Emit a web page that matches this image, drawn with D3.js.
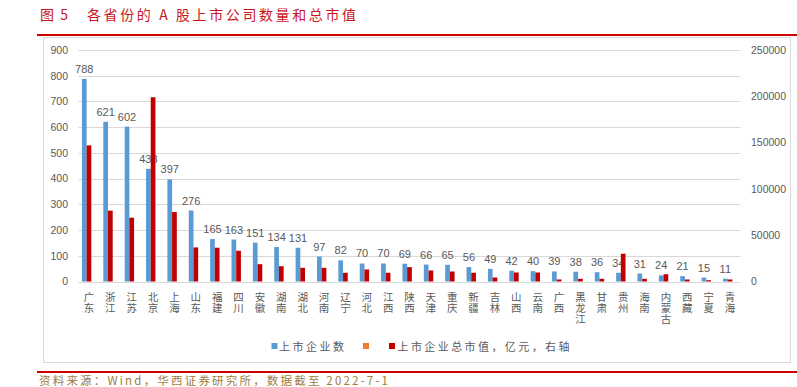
<!DOCTYPE html>
<html><head><meta charset="utf-8">
<script src="https://cdn.jsdelivr.net/npm/d3@7"></script>
<style>
html,body{margin:0;padding:0;background:#fff;}
svg{display:block;}
text{font-family:"Liberation Sans","Noto Sans CJK SC",sans-serif;}
.cjk{font-family:"Noto Sans CJK SC",sans-serif;}
.vert{writing-mode:vertical-rl;text-orientation:upright;}
</style></head>
<body>
<svg id="c" width="797" height="387"></svg>
<script>
const categories = ["广东","浙江","江苏","北京","上海","山东","福建","四川","安徽","湖南","湖北","河南","辽宁","河北","江西","陕西","天津","重庆","新疆","吉林","山西","云南","广西","黑龙江","甘肃","贵州","海南","内蒙古","西藏","宁夏","青海"];
const companyCount = [788,621,602,438,397,276,165,163,151,134,131,97,82,70,70,69,66,65,56,49,42,40,39,38,36,34,31,24,21,15,11];
const marketCap = [147000,76500,68900,199000,75000,36800,36500,33200,18700,16500,14800,14800,9400,13000,9400,15500,11900,10800,9400,4300,9700,9700,2200,2900,2900,30000,2900,7900,2200,1400,2200];
const leftTicks = [0,100,200,300,400,500,600,700,800,900];
const rightTicks = [0,50000,100000,150000,200000,250000];
const titleNo = "图 5";
const titleText = "各省份的 A 股上市公司数量和总市值";
const legendLabels = ["上市企业数", "", "上市企业总市值，亿元，右轴"];
const sourceText = "资料来源：Wind，华西证券研究所，数据截至 2022-7-1";

const svg = d3.select("#c");
const blue = "#5B9BD5", red = "#C00000", orange = "#ED7D31", gray = "#595959", grid = "#D9D9D9";

// title
svg.append("text").attr("class","cjk").attr("x",40).attr("y",20).attr("font-size",14).attr("fill","#C8161D")
  .attr("textLength",28).attr("lengthAdjust","spacing").text(titleNo);
svg.append("text").attr("class","cjk").attr("x",87).attr("y",20).attr("font-size",14).attr("fill","#C8161D")
  .attr("textLength",269).attr("lengthAdjust","spacing").text(titleText);
svg.append("line").attr("x1",37).attr("x2",797).attr("y1",35).attr("y2",35).attr("stroke","#CC0000").attr("stroke-width",2);

// chart frame
svg.append("rect").attr("x",43.5).attr("y",37.5).attr("width",747).attr("height",325).attr("fill","none").attr("stroke",grid);

const x = d3.scaleBand().domain(categories).range([78.3,740.7]).padding(0);
const yL = d3.scaleLinear().domain([0,900]).range([281.5,50]);
const yR = d3.scaleLinear().domain([0,250000]).range([281.5,50]);

// gridlines
svg.append("g").selectAll("line").data(leftTicks).join("line")
  .attr("x1",78.3).attr("x2",740.7).attr("y1",d=>Math.round(yL(d))+0.5).attr("y2",d=>Math.round(yL(d))+0.5)
  .attr("stroke",grid).attr("stroke-width",1);

// axes labels
const axL = d3.axisLeft(yL).tickValues(leftTicks).tickSize(0).tickPadding(0).tickFormat(d3.format("d"));
const gL = svg.append("g").attr("transform","translate(68,0)").call(axL);
gL.select(".domain").remove();
gL.selectAll("text").attr("fill",gray).attr("font-size",10.5).attr("font-family","Liberation Sans");
const axR = d3.axisRight(yR).tickValues(rightTicks).tickSize(0).tickPadding(0).tickFormat(d3.format("d"));
const gR = svg.append("g").attr("transform","translate(751,0)").call(axR);
gR.select(".domain").remove();
gR.selectAll("text").attr("fill",gray).attr("font-size",10.5).attr("font-family","Liberation Sans");

const bw = 4.7;
const cx = d => x(d) + x.bandwidth()/2;

// blue bars
svg.append("g").selectAll("rect").data(categories).join("rect")
  .attr("x",(d)=>cx(d)-1.5*bw).attr("width",bw)
  .attr("y",(d,i)=>yL(companyCount[i])).attr("height",(d,i)=>yL(0)-yL(companyCount[i]))
  .attr("fill",blue);

// data labels
svg.append("g").selectAll("text").data(categories).join("text")
  .attr("x",d=>cx(d)-bw).attr("y",(d,i)=>yL(companyCount[i])-6)
  .attr("text-anchor","middle").attr("font-size",11).attr("fill",gray)
  .text((d,i)=>companyCount[i]);

// red bars
svg.append("g").selectAll("rect").data(categories).join("rect")
  .attr("x",(d)=>cx(d)-0.5*bw).attr("width",bw)
  .attr("y",(d,i)=>yR(marketCap[i])).attr("height",(d,i)=>yR(0)-yR(marketCap[i]))
  .attr("fill",red);

// category labels (vertical)
svg.append("g").selectAll("text").data(categories).join("text")
  .attr("class","cjk vert").attr("font-size",10.5).attr("fill",gray)
  .attr("x",d=>cx(d)).attr("y",292).attr("letter-spacing",0.3)
  .text(d=>d);

// legend
svg.append("rect").attr("x",271.5).attr("y",343).attr("width",6).attr("height",6).attr("fill",blue);
svg.append("text").attr("class","cjk").attr("x",279).attr("y",350.5).attr("font-size",11).attr("fill",gray)
  .attr("textLength",65).attr("lengthAdjust","spacing").text(legendLabels[0]);
svg.append("rect").attr("x",363).attr("y",343).attr("width",6).attr("height",6).attr("fill",orange);
svg.append("rect").attr("x",389).attr("y",343).attr("width",6).attr("height",6).attr("fill",red);
svg.append("text").attr("class","cjk").attr("x",397.5).attr("y",350.5).attr("font-size",11).attr("fill",gray)
  .attr("textLength",172).attr("lengthAdjust","spacing").text(legendLabels[2]);

// bottom line and source
svg.append("line").attr("x1",37).attr("x2",797).attr("y1",372).attr("y2",372).attr("stroke","#CC0000").attr("stroke-width",2);
svg.append("text").attr("class","cjk").attr("x",39).attr("y",384.5).attr("font-size",11.5).attr("fill","#A07C3C")
  .attr("textLength",349).attr("lengthAdjust","spacing").text(sourceText);
</script>
</body></html>
